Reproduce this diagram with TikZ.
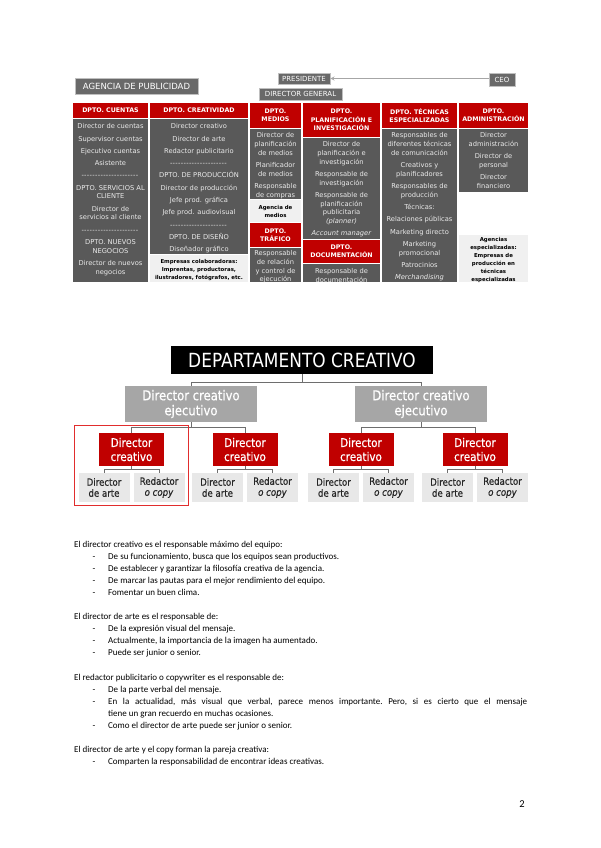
\documentclass[tikz,border=0pt]{standalone}
\usepackage{fontspec}
\setmainfont{Carlito}
\newfontfamily\chartfont{DejaVu Sans}
\newfontfamily\chartnarrow[FakeStretch=0.87]{DejaVu Sans}
\newfontfamily\chartheavy[FakeStretch=0.86,FakeBold=0.6]{DejaVu Sans}
\usetikzlibrary{arrows,positioning,fit}

\definecolor{agred}{RGB}{192,0,0}
\definecolor{aggray}{RGB}{89,89,89}
\definecolor{aglight}{RGB}{240,240,240}
\definecolor{agtitle}{RGB}{105,105,105}
\definecolor{execgray}{RGB}{166,166,166}
\definecolor{leafgray}{RGB}{232,232,232}
\definecolor{hired}{RGB}{225,45,45}
\definecolor{conngray}{RGB}{110,110,110}

\newcommand\colfont{\chartfont\fontsize{6.7}{8.7}\selectfont}
\newcommand\hdrfont{\chartfont\bfseries\fontsize{6.3}{8.3}\selectfont}
\newcommand\notefont{\chartfont\bfseries\fontsize{5.4}{8}\selectfont}
\newcommand\sepline{\hbox to 58pt{\leaders\hbox{-\kern0.3pt}\hfill}}
\newcommand\bodytext{\frenchspacing\fontsize{9}{12}\selectfont}

\begin{document}
\begin{tikzpicture}[x=1pt, y=-1pt, >=stealth]
    \tikzset{
        titlebox/.style={fill=agtitle, draw=black!25, line width=0.8pt, text=white, inner sep=0pt, font=\chartfont\fontsize{7}{8}\selectfont},
        hdr/.style={fill=agred, text=white, inner sep=0pt, align=center, font=\hdrfont},
        body/.style={fill=aggray, inner sep=0pt},
        lightbox/.style={fill=aglight, text=black, inner sep=0pt, align=center, font=\notefont},
        coltxt/.style={anchor=north, inner sep=0pt, align=center, text=black!8, font=\colfont},
        gline/.style={draw=black!35, line width=0.8pt},
        deptbox/.style={fill=black, text=white, inner sep=0pt, minimum width=262pt, minimum height=28pt, font=\chartnarrow\fontsize{19.5}{22}\selectfont},
        execbox/.style={fill=execgray, text=white, inner sep=0pt, align=center, minimum width=132pt, minimum height=36pt, font=\chartheavy\fontsize{13.5}{15}\selectfont},
        crbox/.style={fill=agred, text=white, inner sep=0pt, align=center, minimum width=65pt, minimum height=33pt, font=\chartheavy\fontsize{12}{14}\selectfont},
        leaf/.style={fill=leafgray, text=black!85, inner sep=0pt, align=center, minimum width=51pt, minimum height=29pt, font=\chartheavy\fontsize{10}{11}\selectfont},
        conn/.style={draw=conngray, line width=0.8pt},
        hilite/.style={draw=hired, line width=1pt},
        lead/.style={anchor=base west, inner sep=0pt, font=\bodytext},
        item/.style={anchor=base west, inner sep=0pt, font=\bodytext},
        dashmark/.style={anchor=base, inner sep=0pt, font=\bodytext}
    }
    \useasboundingbox (0,0) rectangle (600,848);
    \fill[white] (0,0) rectangle (600,848);

    % Agencia de publicidad
    \node[titlebox, minimum width=123pt, minimum height=16pt, font=\chartfont\fontsize{8.5}{10}\selectfont] (agency) at (136.5,86) {AGENCIA DE PUBLICIDAD};
    \node[titlebox, minimum width=52pt, minimum height=11pt] (pres) at (304,78.5) {PRESIDENTE};
    \node[titlebox, minimum width=83pt, minimum height=12pt] (dirgen) at (300.5,94) {DIRECTOR GENERAL};
    \node[titlebox, minimum width=26pt, minimum height=13pt] (ceo) at (502,79.5) {CEO};
    \draw[gline, <-] (pres.east) -- (pres.east -| ceo.west);

    % Headers
    \node[hdr, minimum width=75pt, minimum height=15pt] (hcue) at (110.5,110.5) {DPTO. CUENTAS};
    \node[hdr, minimum width=98pt, minimum height=15pt] (hcre) at (199,110.5) {DPTO. CREATIVIDAD};
    \node[hdr, minimum width=51pt, minimum height=25pt] (hmed) at (275.5,115.5) {DPTO.\\MEDIOS};
    \node[hdr, minimum width=77pt, minimum height=34pt] (hpla) at (341.5,120) {DPTO.\\PLANIFICACIÓN E\\INVESTIGACIÓN};
    \node[hdr, minimum width=75pt, minimum height=25pt] (htec) at (419.5,115.5) {DPTO. TÉCNICAS\\ESPECIALIZADAS};
    \node[hdr, minimum width=69pt, minimum height=25pt] (hadm) at (493.5,115.5) {DPTO.\\ADMINISTRACIÓN};

    \begin{scope}
    \clip (60,60) rectangle (540,282);
    % Column bodies
    \node[body, minimum width=75pt, minimum height=163pt] (bcue) at (110.5,200.5) {};
    \node[body, minimum width=98pt, minimum height=135pt] (bcre) at (199,186.5) {};
    \node[lightbox, minimum width=98pt, minimum height=27pt] (lcre) at (199,268.5) {};
    \node[body, minimum width=51pt, minimum height=70pt] (bmed) at (275.5,164) {};
    \node[lightbox, minimum width=51pt, minimum height=22pt] (lmed) at (275.5,211) {Agencia de\\medios};
    \node[hdr, minimum width=51pt, minimum height=24pt] (htra) at (275.5,235) {DPTO.\\TRÁFICO};
    \node[body, minimum width=51pt, minimum height=34pt] (btra) at (275.5,265) {};
    \node[body, minimum width=77pt, minimum height=101pt] (bpla) at (341.5,188.5) {};
    \node[hdr, minimum width=77pt, minimum height=23pt] (hdoc) at (341.5,251.5) {DPTO.\\DOCUMENTACIÓN};
    \node[body, minimum width=77pt, minimum height=18pt] (bdoc) at (341.5,273) {};
    \node[body, minimum width=75pt, minimum height=153pt] (btec) at (419.5,205.5) {};
    \node[body, minimum width=69pt, minimum height=63pt] (badm) at (493.5,160.5) {};
    \node[lightbox, minimum width=69pt, minimum height=47pt] (ladm) at (493.5,258.5) {};

    % Column texts
    \node[coltxt] (tcue) at (110.5,123.5) {Director de cuentas\\[3.6pt] Supervisor cuentas\\[3.6pt] Ejecutivo cuentas\\[3.6pt] Asistente\\[3.6pt] \sepline\\[3.6pt] DPTO. SERVICIOS AL\\CLIENTE\\[3.6pt] Director de\\servicios al cliente\\[3.6pt] \sepline\\[3.6pt] DPTO. NUEVOS\\NEGOCIOS\\[3.6pt] Director de nuevos\\negocios};
    \node[coltxt] (tcre) at (199,123.5) {Director creativo\\[3.6pt] Director de arte\\[3.6pt] Redactor publicitario\\[3.6pt] \sepline\\[3.6pt] DPTO. DE PRODUCCIÓN\\[3.6pt] Director de producción\\[3.6pt] Jefe prod. gráfica\\[3.6pt] Jefe prod. audiovisual\\[3.6pt] \sepline\\[3.6pt] DPTO. DE DISEÑO\\[3.6pt] Diseñador gráfico};
    \node[coltxt, text=black, font=\notefont, text depth=0pt] (tlcre) at (199,259.5) {Empresas colaboradoras:\\Imprentas, productoras,\\ilustradores, fotógrafos, etc.};
    \node[coltxt] (tmed) at (275.5,132.5) {Director de\\planificación\\de medios\\[3.6pt] Planificador\\de medios\\[3.6pt] Responsable\\de compras};
    \node[coltxt] (ttra) at (275.5,250.5) {Responsable\\de relación\\y control de\\ejecución};
    \node[coltxt] (tpla) at (341.5,141.5) {Director de\\planificación e\\investigación\\[3.6pt] Responsable de\\investigación\\[3.6pt] Responsable de\\planificación\\publicitaria\\\textit{(planner)}\\[3.6pt] \textit{Account manager}};
    \node[coltxt] (tdoc) at (341.5,268.5) {Responsable de\\documentación};
    \node[coltxt] (ttec) at (419.5,132.5) {Responsables de\\diferentes técnicas\\de comunicación\\[3.6pt] Creativos y\\planificadores\\[3.6pt] Responsables de\\producción\\[3.6pt] Técnicas:\\[3.6pt] Relaciones públicas\\[3.6pt] Marketing directo\\[3.6pt] Marketing\\promocional\\[3.6pt] Patrocinios\\[3.6pt] \textit{Merchandising}};
    \node[coltxt] (tadm) at (493.5,132.5) {Director\\administración\\[3.6pt] Director de\\personal\\[3.6pt] Director\\financiero};
    \node[coltxt, text=black, font=\notefont] (tladm) at (493.5,237.5) {Agencias\\especializadas:\\Empresas de\\producción en\\técnicas\\especializadas};
    \end{scope}

    % Departamento creativo
    \node[deptbox] (dept) at (302,360) {DEPARTAMENTO CREATIVO};
    \node[execbox] (exec1) at (191,404) {Director creativo\\ejecutivo};
    \node[execbox] (exec2) at (421,404) {Director creativo\\ejecutivo};
    \draw[conn] (dept.south) -- ++(0,8) -| (exec1.north);
    \draw[conn] (dept.south) -- ++(0,8) -| (exec2.north);

    \foreach \i/\cx in {1/131.5, 2/245, 3/361, 4/475} {
        \node[crbox] (cr\i) at (\cx,449.5) {Director\\creativo};
        \node[leaf] (da\i) at (\cx-27.5,487.5) {Director\\de arte};
        \node[leaf] (rc\i) at (\cx+27.5,487.5) {Redactor\\\textit{o copy}};
        \draw[conn] (cr\i.south) -- ++(0,3) -| (da\i.north);
        \draw[conn] (cr\i.south) -- ++(0,3) -| (rc\i.north);
    }
    \draw[conn] (exec1.south) -- ++(0,5) -| (cr1.north);
    \draw[conn] (exec1.south) -- ++(0,5) -| (cr2.north);
    \draw[conn] (exec2.south) -- ++(0,5) -| (cr3.north);
    \draw[conn] (exec2.south) -- ++(0,5) -| (cr4.north);
    \draw[hilite] (74,425) rectangle (188,505);

    % Text
    \node[lead] (p1) at (74,547) {El director creativo es el responsable máximo del equipo:};
    \foreach \yy/\txt [count=\k] in {559/{De su funcionamiento, busca que los equipos sean productivos.},
        571/{De establecer y garantizar la filosofía creativa de la agencia.},
        583/{De marcar las pautas para el mejor rendimiento del equipo.},
        595/{Fomentar un buen clima.}} {
        \node[dashmark] (da-a\k) at (94,\yy) {-};
        \node[item] (it-a\k) at (108,\yy) {\txt};
    }
    \node[lead] (p2) at (74,619) {El director de arte es el responsable de:};
    \foreach \yy/\txt [count=\k] in {631/{De la expresión visual del mensaje.},
        643/{Actualmente, la importancia de la imagen ha aumentado.},
        655/{Puede ser junior o senior.}} {
        \node[dashmark] (da-b\k) at (94,\yy) {-};
        \node[item] (it-b\k) at (108,\yy) {\txt};
    }
    \node[lead] (p3) at (74,680) {El redactor publicitario o copywriter es el responsable de:};
    \foreach \yy/\txt [count=\k] in {692/{De la parte verbal del mensaje.},
        704/{\makebox[419pt][s]{En la actualidad, más visual que verbal, parece menos importante. Pero, si es cierto que el mensaje}},
        728/{Como el director de arte puede ser junior o senior.}} {
        \node[dashmark] (da-c\k) at (94,\yy) {-};
        \node[item] (it-c\k) at (108,\yy) {\txt};
    }
    \node[item] (it-c2b) at (108,716) {tiene un gran recuerdo en muchas ocasiones.};
    \node[lead] (p4) at (74,752) {El director de arte y el copy forman la pareja creativa:};
    \node[dashmark] (da-d1) at (94,764) {-};
    \node[item] (it-d1) at (108,764) {Comparten la responsabilidad de encontrar ideas creativas.};
    \node[anchor=base, inner sep=0pt, font=\fontsize{10.5}{12}\selectfont] (page) at (522,807) {2};
\end{tikzpicture}
\end{document}
